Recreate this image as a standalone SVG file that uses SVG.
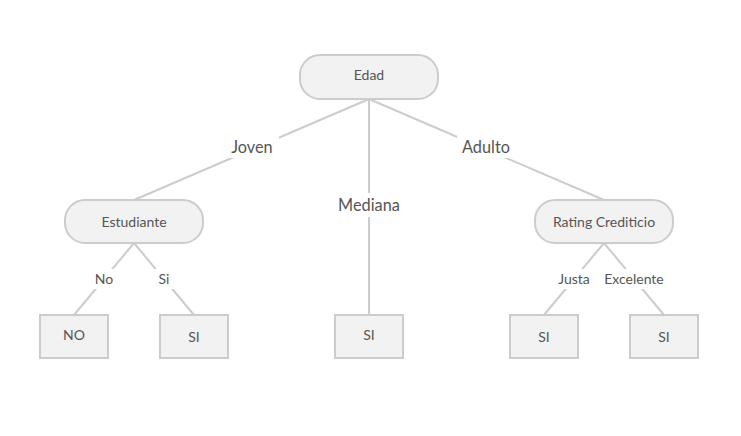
<svg xmlns="http://www.w3.org/2000/svg" width="741" height="436" viewBox="0 0 741 436">
<style>
.node{fill:#f2f2f2;stroke:#cccccc;stroke-width:2}
.ntext{font-family:Lato,"Liberation Sans",sans-serif;font-size:14px;fill:#555555;text-anchor:middle;dominant-baseline:central}
.edge{stroke:#cccccc;stroke-width:2;fill:none}
.lbg{fill:#ffffff}
.ltext{font-family:Lato,"Liberation Sans",sans-serif;fill:#555555;text-anchor:middle;dominant-baseline:central}
.big{font-size:16.3px}
.small{font-size:14px}
</style>
<rect width="741" height="436" fill="#ffffff"/>
<g id="connectors">
<line class="edge" x1="369" y1="99" x2="134" y2="200"/>
<line class="edge" x1="369" y1="99" x2="369" y2="315"/>
<line class="edge" x1="369" y1="99" x2="604" y2="200"/>
<line class="edge" x1="134" y1="243" x2="74" y2="315"/>
<line class="edge" x1="134" y1="243" x2="194" y2="315"/>
<line class="edge" x1="604" y1="243" x2="544" y2="315"/>
<line class="edge" x1="604" y1="243" x2="664" y2="315"/>
<rect class="lbg" x="225" y="136" width="54" height="22"/>
<text class="ltext big" x="252" y="146">Joven</text>
<rect class="lbg" x="334" y="193" width="70" height="24"/>
<text class="ltext big" x="369" y="204">Mediana</text>
<rect class="lbg" x="457" y="136" width="58" height="22"/>
<text class="ltext big" x="486" y="146">Adulto</text>
<rect class="lbg" x="91" y="269" width="26" height="20"/>
<text class="ltext small" x="104" y="278">No</text>
<rect class="lbg" x="154" y="269" width="20" height="20"/>
<text class="ltext small" x="164" y="278">Si</text>
<rect class="lbg" x="553" y="269" width="42" height="20"/>
<text class="ltext small" x="574" y="278">Justa</text>
<rect class="lbg" x="600" y="269" width="68" height="20"/>
<text class="ltext small" x="634" y="278">Excelente</text>
</g>
<g id="edad"><rect class="node" x="300" y="55" width="138" height="44" rx="20"/><text class="ntext" x="369" y="74">Edad</text></g>
<g id="estudiante"><rect class="node" x="65" y="200" width="138" height="43" rx="20"/><text class="ntext" x="134" y="221">Estudiante</text></g>
<g id="rating"><rect class="node" x="535" y="200" width="138" height="43" rx="20"/><text class="ntext" x="604" y="221">Rating Crediticio</text></g>
<g id="leaf-no"><rect class="node" x="40" y="315" width="68" height="43"/><text class="ntext" x="74" y="334">NO</text></g>
<g id="leaf-si-1"><rect class="node" x="160" y="315" width="68" height="43"/><text class="ntext" x="194" y="336">SI</text></g>
<g id="leaf-si-2"><rect class="node" x="335" y="315" width="68" height="43"/><text class="ntext" x="369" y="334">SI</text></g>
<g id="leaf-si-3"><rect class="node" x="510" y="315" width="68" height="43"/><text class="ntext" x="544" y="336">SI</text></g>
<g id="leaf-si-4"><rect class="node" x="630" y="315" width="68" height="43"/><text class="ntext" x="664" y="336">SI</text></g>
</svg>
